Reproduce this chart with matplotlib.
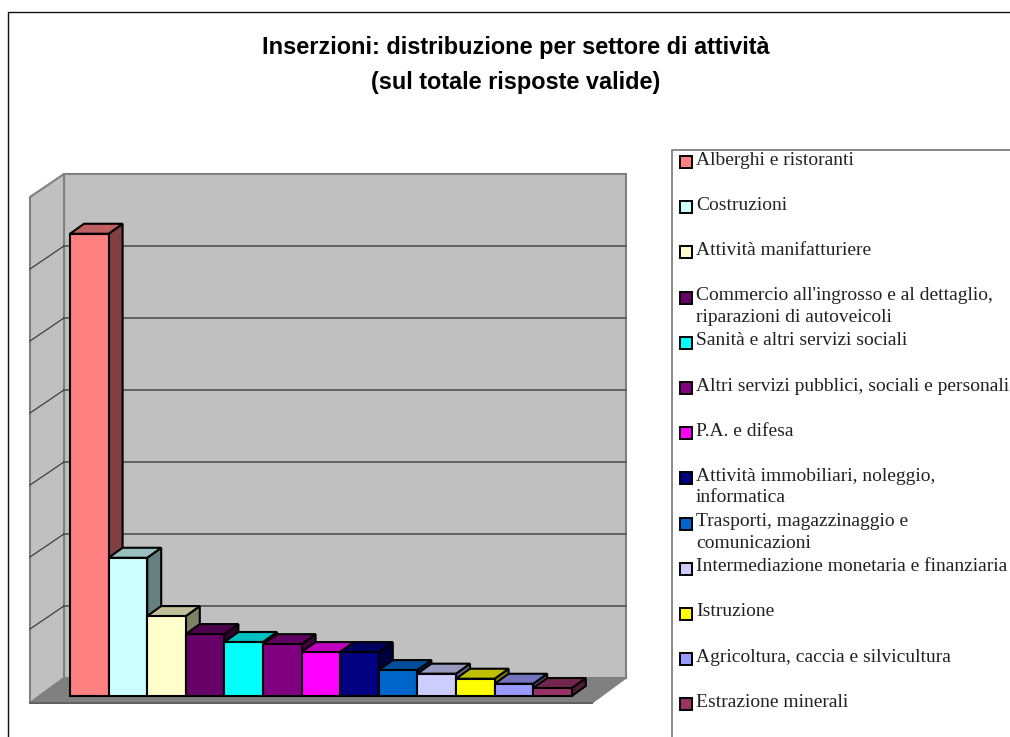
# -*- coding: utf-8 -*-
import matplotlib
matplotlib.use('Agg')
import matplotlib.pyplot as plt
from matplotlib.patches import Polygon, Rectangle

title_lines = ['Inserzioni: distribuzione per settore di attività',
               '(sul totale risposte valide)']
settori = ['Alberghi e ristoranti', 'Costruzioni', 'Attività manifatturiere',
           "Commercio all'ingrosso e al dettaglio,\nriparazioni di autoveicoli",
           'Sanità e altri servizi sociali',
           'Altri servizi pubblici, sociali e personali', 'P.A. e difesa',
           'Attività immobiliari, noleggio,\ninformatica',
           'Trasporti, magazzinaggio e\ncomunicazioni',
           'Intermediazione monetaria e finanziaria', 'Istruzione',
           'Agricoltura, caccia e silvicultura', 'Estrazione minerali']
valori = [64.2, 19.2, 11.1, 8.6, 7.5, 7.2, 6.1, 6.1, 3.6, 3.1, 2.4, 1.7, 1.1]
colori = ['#FF8080', '#CCFFFF', '#FFFFCC', '#660066', '#00FFFF', '#800080', '#FF00FF',
          '#000080', '#0066CC', '#CCCCFF', '#FFFF00', '#9999FF', '#993366']
griglia = [10, 20, 30, 40, 50, 60]
val_max = 70

# pixel scale of the plot
PX_X = 38.6
PX_Y = 7.2
X0 = 70
Y0 = 696


def shade(col, f):
    rgb = matplotlib.colors.to_rgb(col)
    return tuple(c * f for c in rgb)


fig = plt.figure(figsize=(10.1, 7.37), dpi=100, facecolor='white')

# pixel axes for border, titles and legend
pax = fig.add_axes([0, 0, 1, 1])
pax.set_xlim(0, 1010)
pax.set_ylim(737, 0)
pax.axis('off')

pax.plot([7.5, 7.5, 1010], [737, 11.5, 11.5], color='#111111', lw=1.0)
for i in range(len(title_lines)):
    pax.text(516, 47.5 + 35 * i, title_lines[i], ha='center', va='center', color='black',
             family='Liberation Sans', weight='bold', fontsize=16.9)

# legend
pax.plot([672, 672, 1010], [737, 150, 150], color='#808080', lw=1.3)
for i in range(len(settori)):
    y = 162 + 45.2 * i
    pax.add_patch(Rectangle((680, y - 6), 12, 12, facecolor=colori[i], edgecolor='black', lw=1.4))
    righe = settori[i].split('\n')
    for j in range(len(righe)):
        pax.text(696, y + 2.5 + 21.5 * j, righe[j], ha='left', va='baseline', color='#222222',
                 family='Liberation Serif', fontsize=14)

# value axes, x in bar slots and y in value units
ax = fig.add_axes([0, 0, 1, 1])
ax.patch.set_alpha(0)
ax.set_xlim((0 - X0) / PX_X, (1010 - X0) / PX_X)
ax.set_ylim((Y0 - 737) / PX_Y, Y0 / PX_Y)
ax.axis('off')

dx = 14 / PX_X
dy = 10 / PX_Y
back_l, back_r = (64 - X0) / PX_X, (626 - X0) / PX_X
front_l, front_r = (30 - X0) / PX_X, (592 - X0) / PX_X
back_y = 18 / PX_Y
front_y = -7 / PX_Y
side_dy = 23 / PX_Y
edge = '#808080'

# walls and floor
ax.add_patch(Polygon([(back_l, back_y), (back_r, back_y), (back_r, back_y + val_max), (back_l, back_y + val_max)],
                     facecolor='#C0C0C0', edgecolor=edge, lw=1.5, zorder=1))
ax.add_patch(Polygon([(front_l, front_y), (back_l, back_y), (back_l, back_y + val_max), (front_l, back_y + val_max - side_dy)],
                     facecolor='#C0C0C0', edgecolor=edge, lw=1.5, zorder=1))
ax.add_patch(Polygon([(front_l, front_y), (front_r, front_y), (back_r, back_y), (back_l, back_y)],
                     facecolor='#808080', edgecolor='#808080', lw=1.0, zorder=1))
ax.plot([front_l, front_r], [front_y, front_y], color='#606060', lw=1.4, zorder=2)
for g in griglia:
    ax.plot([back_l, back_r], [back_y + g, back_y + g], color='#606060', lw=1.4, zorder=2)
    ax.plot([front_l, back_l], [back_y + g - side_dy, back_y + g], color='#303030', lw=0.8, zorder=2)

# bars, left to right so each one covers the side of the previous
for i in range(len(valori)):
    v = valori[i]
    z = 3 + i
    ax.bar(i, v, width=1, align='edge', facecolor=colori[i], edgecolor='black', lw=1.5, zorder=z + 0.5)
    ax.add_patch(Polygon([(i + 1, 0), (i + 1 + dx, dy), (i + 1 + dx, v + dy), (i + 1, v)],
                         facecolor=shade(colori[i], 0.5), edgecolor='black', lw=1.5, zorder=z))
    ax.add_patch(Polygon([(i, v), (i + dx, v + dy), (i + 1 + dx, v + dy), (i + 1, v)],
                         facecolor=shade(colori[i], 0.75), edgecolor='black', lw=1.5, zorder=z))

fig.savefig('out.png', dpi=100)
